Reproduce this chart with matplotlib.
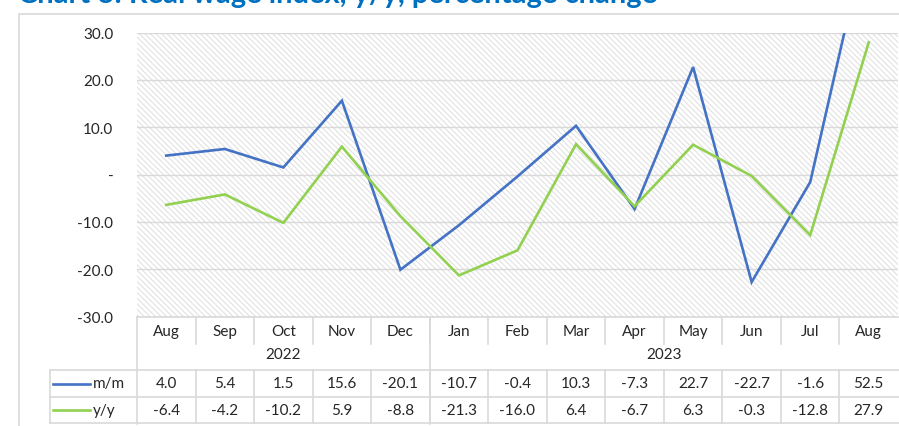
import matplotlib
matplotlib.use("Agg")
import matplotlib.pyplot as plt
import matplotlib.ticker as ticker
from matplotlib.patches import Rectangle

months = ["Aug", "Sep", "Oct", "Nov", "Dec", "Jan", "Feb", "Mar", "Apr", "May", "Jun", "Jul", "Aug"]
years = ["2022", "2023"]
mm = [4.0, 5.4, 1.5, 15.6, -20.1, -10.7, -0.4, 10.3, -7.3, 22.7, -22.7, -1.6, 52.5]
yy = [-6.4, -4.2, -10.2, 5.9, -8.8, -21.3, -16.0, 6.4, -6.7, 6.3, -0.3, -12.8, 27.9]
title = "Chart 3: Real wage index, y/y, percentage change"

BLUE = "#4472C4"
GREEN = "#92D050"
GRID = "#d9d9d9"
TXT = "#262626"

plt.rcParams["font.family"] = ["Lato", "DejaVu Sans"]
plt.rcParams["hatch.linewidth"] = 0.7

W, H = 899, 427
fig = plt.figure(figsize=(W / 100, H / 100), dpi=100)

# plot area in pixels
x0, x1 = 137, 898
ytop, ybot = 33.5, 317.6
ax = fig.add_axes([x0 / W, 1 - ybot / H, (x1 - x0) / W, (ybot - ytop) / H])

# hatched background
ax.add_patch(Rectangle((0, 0), 1, 1, transform=ax.transAxes, facecolor="white",
                       edgecolor="#dedede", hatch="\\" * 6, linewidth=0, zorder=0))

xs = range(len(months))
ax.plot(xs, mm, color=BLUE, lw=1.9, zorder=3, solid_joinstyle="miter")
ax.plot(xs, yy, color=GREEN, lw=1.9, zorder=3, solid_joinstyle="miter")

ax.set_xlim(-0.5, len(months) - 0.5)
ax.set_ylim(-30, 30)
ax.set_yticks(range(-30, 31, 10))
ax.yaxis.set_major_formatter(ticker.FuncFormatter(lambda v, p: "-" if v == 0 else "%.1f" % v))
ax.tick_params(axis="y", length=0, pad=17, labelsize=11, labelcolor=TXT)
ax.set_xticks([])
ax.grid(axis="y", color=GRID, lw=1, zorder=1)
ax.set_axisbelow(False)
for s in ax.spines.values():
    s.set_visible(False)


def ay(py):
    # pixel row -> axes fraction
    return (ybot - py) / (ybot - ytop)


def axx(px):
    # pixel column -> axes fraction
    return (px - x0) / (x1 - x0)


def hline(py, pxa, pxb):
    ax.plot([axx(pxa), axx(pxb)], [ay(py), ay(py)], color=GRID, lw=1.2,
            transform=ax.transAxes, clip_on=False)


def vline(xa, pya, pyb):
    ax.plot([xa, xa], [ay(pya), ay(pyb)], color=GRID, lw=1.2,
            transform=ax.get_xaxis_transform(), clip_on=False)


tr = ax.get_xaxis_transform()
n = len(months)

# data table: months row
for i, m in enumerate(months):
    ax.text(i, ay(332), m, transform=tr, ha="center", va="center", fontsize=11, color=TXT)
for i in range(n - 1):
    vline(i + 0.5, ybot, 345)
vline(-0.5, ybot, 425)
hline(ybot, x0, x1 + 5)

# years row
ax.text(2, ay(355), years[0], transform=tr, ha="center", va="center", fontsize=11, color=TXT)
ax.text(8.5, ay(355), years[1], transform=tr, ha="center", va="center", fontsize=11, color=TXT)
vline(4.5, ybot, 425)

# value rows
for py in (371, 398, 424.5):
    hline(py, 49.5, x1 + 5)
ax.plot([axx(49.5)] * 2, [ay(371), ay(424.5)], color=GRID, lw=1.2,
        transform=ax.transAxes, clip_on=False)
for i in range(n - 1):
    vline(i + 0.5, 371, 424.5)

for vals, lab, col, py in ((mm, "m/m", BLUE, 384.5), (yy, "y/y", GREEN, 411)):
    for i, v in enumerate(vals):
        ax.text(i, ay(py), "%.1f" % v, transform=tr, ha="center", va="center",
                fontsize=11, color=TXT)
    ax.plot([axx(53), axx(90)], [ay(py), ay(py)], color=col, lw=1.9,
            transform=ax.transAxes, clip_on=False)
    ax.text(axx(93), ay(py), lab, transform=ax.transAxes, ha="left", va="center",
            fontsize=11, color=TXT)

# chart border
fig.add_artist(Rectangle((19 / W, -0.1), 1, 1.1 - 15 / H, transform=fig.transFigure,
                         fill=False, edgecolor=GRID, lw=1.2))

# title, mostly cut off at the top as in the source image
fig.text(18 / W, 1 - 2.5 / H, title, ha="left", va="baseline", fontsize=21,
         fontweight="bold", color="#0070C0")

fig.savefig("out.png", dpi=100)
